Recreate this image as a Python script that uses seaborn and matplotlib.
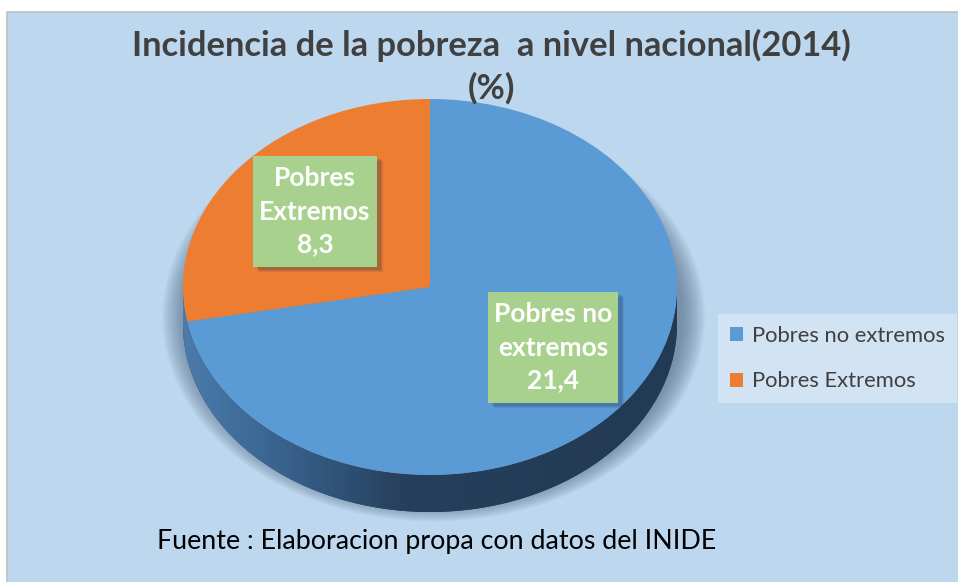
import numpy as np
import matplotlib
matplotlib.use("Agg")
import matplotlib.pyplot as plt
import seaborn as sns
from matplotlib.patches import Rectangle, Ellipse, PathPatch
from matplotlib.path import Path
from matplotlib.colors import LinearSegmentedColormap

# ---- data ----
categories = ["Pobres no extremos", "Pobres Extremos"]
values = [21.4, 8.3]
value_labels = ["21,4", "8,3"]
box_texts = ["Pobres no\nextremos\n21,4", "Pobres\nExtremos\n8,3"]
title_line1 = "Incidencia de la pobreza  a nivel nacional(2014)"
title_line2 = "(%)"
source_text = "Fuente : Elaboracion propa con datos del INIDE"

sns.set_style("white")
plt.rcParams['font.family'] = ['Lato', 'DejaVu Sans']

palette = sns.color_palette(["#5B9BD5", "#ED7D31"])
BG = "#BDD7EE"

W, H = 958, 582
fig = plt.figure(figsize=(W / 100, H / 100), dpi=100)
fig.patch.set_facecolor("white")

def px(x, y_top):
    return x / W, 1 - y_top / H

# chart area background with border
bg = Rectangle((7 / W, -0.01), 1.0, (H - 12) / H + 0.01, transform=fig.transFigure,
               facecolor=BG, edgecolor="#BFBFBF", linewidth=1.2, zorder=-5)
fig.patches.append(bg)

# ---- pie axes (ellipse projection) ----
cx, cy, a, b = 430, 287, 247, 188   # pixel centre (from top) and semi-axes
ext = 1.25
ax = fig.add_axes([(cx - a * ext) / W, (H - cy - b * ext) / H, 2 * a * ext / W, 2 * b * ext / H])
ax.set_facecolor("none")
d = 37 / b  # depth in data units

# soft shadow
for k in range(16):
    s = 1.0 + 0.006 * k
    ax.add_patch(Ellipse((0.015, -d * 0.8), 2 * s * 1.008, 2 * s, facecolor="#4d6480",
                         alpha=0.05, edgecolor="none", zorder=0))

# side of the cylinder with gradient
t = np.linspace(np.pi, 2 * np.pi, 200)
xs = np.cos(t)
lower = np.sin(t) - d
upper = np.sin(t)
verts = np.concatenate([np.column_stack([xs, lower]), np.column_stack([xs[::-1], upper[::-1]])])
side_path = Path(np.vstack([verts, verts[:1]]), closed=True)
side_patch = PathPatch(side_path, facecolor="#243d57", edgecolor="none", zorder=1)
ax.add_patch(side_patch)
cmap = LinearSegmentedColormap.from_list("side", [(0, "#4a7cab"), (0.18, "#3a6591"),
                                                  (0.45, "#263f5b"), (1, "#223a53")])
grad = np.linspace(0, 1, 256).reshape(1, -1)
im = ax.imshow(grad, extent=[-1, 1, -1 - d, 0.05], aspect="auto", cmap=cmap, zorder=1.5)
im.set_clip_path(side_patch)

# top face
wedges, _ = ax.pie(values, colors=palette, startangle=90, counterclock=False, radius=1,
                   wedgeprops=dict(linewidth=0, zorder=2))
ax.set_aspect("auto")
ax.set_xlim(-ext, ext)
ax.set_ylim(-ext, ext)
ax.axis("off")

# ---- label boxes ----
boxes = [(488, 292, 618, 403), (253, 156, 377, 267)]
for (x0, y0, x1, y1), txt in zip(boxes, box_texts):
    for k, al in enumerate([0.10, 0.12, 0.16]):
        off = 5 - k
        sh = Rectangle((px(x0 + off + 1, 0)[0], px(0, y1 + off)[1]), (x1 - x0) / W, (y1 - y0) / H,
                       transform=fig.transFigure, facecolor="#1f3550", alpha=al,
                       edgecolor="none", zorder=1)
        fig.patches.append(sh)
    r = Rectangle((x0 / W, 1 - y1 / H), (x1 - x0) / W, (y1 - y0) / H, transform=fig.transFigure,
                  facecolor="#A9D18E", edgecolor="none", zorder=1.5)
    fig.patches.append(r)
    fig.text((x0 + x1) / 2 / W, 1 - (y0 + y1) / 2 / H, txt, ha="center", va="center",
             color="white", fontsize=19, fontweight="bold", linespacing=1.45, zorder=3)

# ---- titles ----
fig.text(*px(491, 45), title_line1, ha="center", va="center", fontsize=24.8,
         fontweight="bold", color="#404040")
fig.text(*px(491, 88), title_line2, ha="center", va="center", fontsize=24.8,
         fontweight="bold", color="#404040")
fig.text(*px(157, 542), source_text, ha="left", va="center", fontsize=19.3, color="black")

# ---- legend ----
leg = fig.legend(wedges, categories, loc="upper left", bbox_to_anchor=px(718, 314),
                 frameon=True, facecolor="#D2E3F3", edgecolor="none", framealpha=1,
                 fancybox=False, fontsize=15.8, handlelength=0.6, handleheight=0.6,
                 handletextpad=0.4, labelspacing=1.15, borderpad=0.55, borderaxespad=0)
for txt in leg.get_texts():
    txt.set_color("#404040")

fig.savefig("out.png", dpi=100, facecolor=fig.get_facecolor())
